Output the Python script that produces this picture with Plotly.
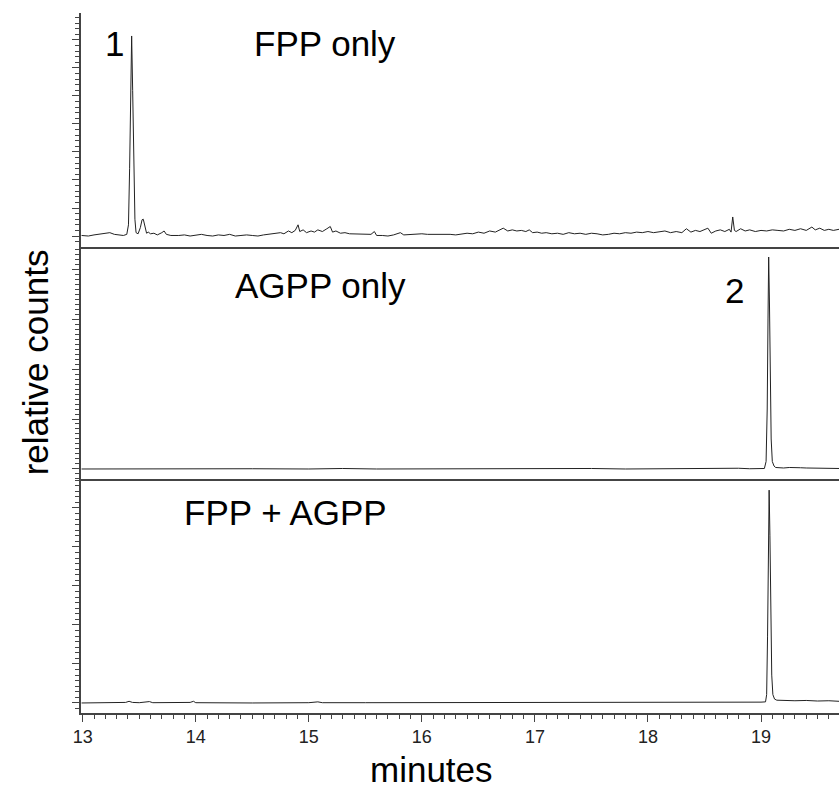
import plotly.graph_objects as go

# ---- data (retention time in minutes, relative counts per panel) ----
fpp_t = [12.99, 13.05, 13.10, 13.15, 13.20, 13.24, 13.28, 13.32, 13.36, 13.39,
         13.405, 13.415, 13.425, 13.433, 13.442, 13.452, 13.462, 13.472, 13.49, 13.51,
         13.525, 13.536, 13.55, 13.565, 13.58, 13.60, 13.63, 13.66, 13.70, 13.72,
         13.74, 13.78, 13.85, 13.90, 13.95, 14.00, 14.05, 14.10, 14.15, 14.20,
         14.25, 14.30, 14.35, 14.40, 14.45, 14.50, 14.55, 14.60, 14.65, 14.70,
         14.75, 14.78, 14.82, 14.85, 14.88, 14.905, 14.92, 14.95, 14.98, 15.02,
         15.05, 15.08, 15.12, 15.16, 15.19, 15.21, 15.24, 15.28, 15.32, 15.36,
         15.40, 15.45, 15.50, 15.55, 15.58, 15.60, 15.65, 15.70, 15.75, 15.81,
         15.84, 15.90, 15.95, 16.00, 16.05, 16.10, 16.15, 16.20, 16.25, 16.30,
         16.35, 16.40, 16.45, 16.50, 16.55, 16.60, 16.65, 16.70, 16.72, 16.76,
         16.80, 16.84, 16.88, 16.92, 16.95, 16.98, 17.02, 17.06, 17.10, 17.15,
         17.20, 17.25, 17.30, 17.35, 17.40, 17.45, 17.50, 17.55, 17.60, 17.65,
         17.70, 17.75, 17.80, 17.85, 17.90, 17.95, 18.00, 18.05, 18.10, 18.15,
         18.20, 18.25, 18.30, 18.34, 18.38, 18.42, 18.46, 18.50, 18.53, 18.56,
         18.60, 18.64, 18.68, 18.72, 18.735, 18.75, 18.765, 18.78, 18.82, 18.86,
         18.90, 18.95, 19.00, 19.05, 19.10, 19.15, 19.20, 19.25, 19.30, 19.35,
         19.40, 19.45, 19.48, 19.52, 19.56, 19.60, 19.64, 19.69]
fpp_v = [0.1, 0.0, 0.2, 0.3, 0.4, 0.6, 0.3, 0.2, 0.1, 0.3,
         2.0, 12.0, 28.0, 35.7, 26.0, 10.0, 3.0, 0.6, 0.4, 1.5,
         2.9, 3.0, 1.6, 0.5, 0.7, 0.4, 0.5, 0.2, 0.6, 0.9,
         0.3, 0.1, 0.1, 0.2, 0.0, 0.1, 0.3, 0.1, 0.0, 0.2,
         0.1, 0.3, 0.0, 0.1, 0.2, 0.1, 0.0, 0.2, 0.3, 0.4,
         0.6, 0.4, 0.9, 0.6, 1.0, 2.0, 0.8, 1.1, 0.6, 0.9,
         0.7, 1.1, 0.8, 1.3, 1.7, 0.7, 0.9, 0.5, 0.6, 0.4,
         0.4, 0.3, 0.3, 0.3, 0.8, 0.1, 0.1, 0.0, 0.2, 0.6,
         0.2, 0.3, 0.4, 0.4, 0.3, 0.3, 0.4, 0.3, 0.3, 0.2,
         0.4, 0.5, 0.4, 0.7, 0.5, 0.9, 0.7, 1.1, 1.4, 0.9,
         1.1, 0.9, 1.0, 0.8, 1.1, 0.6, 0.7, 0.5, 0.6, 0.4,
         0.5, 0.3, 0.6, 0.4, 0.5, 0.3, 0.5, 0.4, 0.2, 0.3,
         0.5, 0.4, 0.6, 0.5, 0.7, 0.6, 0.8, 0.6, 0.7, 0.9,
         0.6, 0.8, 0.6, 1.3, 0.7, 1.0, 0.8, 1.2, 1.4, 0.5,
         0.9, 1.1, 0.8, 1.2, 0.7, 3.4, 1.0, 0.8, 1.3, 0.9,
         1.1, 0.8, 1.0, 0.9, 1.1, 1.0, 0.9, 1.2, 1.0, 1.3,
         1.0, 1.6, 1.1, 1.4, 1.0, 1.2, 1.0, 1.2]

agpp_t = [12.99, 13.5, 14.0, 14.5, 15.0, 15.3, 15.6, 16.0, 16.5, 17.0,
          17.5, 17.8, 18.0, 18.3, 18.5, 18.6, 18.7, 18.8, 18.9, 19.0,
          19.03, 19.045, 19.055, 19.062, 19.068, 19.075, 19.082, 19.09, 19.10, 19.115,
          19.13, 19.16, 19.2, 19.25, 19.3, 19.35, 19.4, 19.5, 19.6, 19.69]
agpp_v = [0.0, 0.05, 0.0, 0.05, 0.0, 0.1, 0.0, 0.05, 0.0, 0.05,
          0.1, 0.0, 0.05, 0.1, 0.05, 0.15, 0.1, 0.15, 0.05, 0.1,
          0.1, 1.5, 12.0, 30.0, 42.4, 33.0, 18.0, 6.0, 1.5, 0.6,
          0.3, 0.25, 0.2, 0.3, 0.2, 0.25, 0.2, 0.15, 0.1, 0.1]

mix_t = [12.99, 13.3, 13.38, 13.41, 13.44, 13.5, 13.57, 13.59, 13.62, 13.8,
         13.95, 13.98, 14.0, 14.5, 15.0, 15.08, 15.12, 15.5, 16.0, 16.5,
         17.0, 17.5, 18.0, 18.5, 18.8, 19.0, 19.04, 19.05, 19.058, 19.065,
         19.072, 19.079, 19.086, 19.095, 19.105, 19.12, 19.14, 19.2, 19.3, 19.4,
         19.5, 19.6, 19.69]
mix_v = [0.0, 0.05, 0.1, 0.3, 0.1, 0.05, 0.1, 0.25, 0.05, 0.05,
         0.1, 0.3, 0.05, 0.0, 0.05, 0.2, 0.05, 0.05, 0.05, 0.1,
         0.05, 0.1, 0.1, 0.15, 0.1, 0.15, 0.2, 1.5, 12.0, 30.0,
         38.2, 30.0, 15.0, 5.0, 1.5, 0.7, 0.5, 0.45, 0.4, 0.45,
         0.35, 0.4, 0.3]

panel_labels = ["FPP only", "AGPP only", "FPP + AGPP"]
peak_labels = ["1", "2"]
x_ticks = [13, 14, 15, 16, 17, 18, 19]

XR = [12.985, 19.69]
LINE = "#222222"
AX = "#444444"
FONT = "Liberation Sans, Arial, sans-serif"

fig = go.Figure()
fig.add_trace(go.Scatter(x=fpp_t, y=fpp_v, xaxis="x", yaxis="y", mode="lines",
                         line=dict(color=LINE, width=1), showlegend=False))
fig.add_trace(go.Scatter(x=agpp_t, y=agpp_v, xaxis="x2", yaxis="y2", mode="lines",
                         line=dict(color=LINE, width=1), showlegend=False))
fig.add_trace(go.Scatter(x=mix_t, y=mix_v, xaxis="x3", yaxis="y3", mode="lines",
                         line=dict(color=LINE, width=1), showlegend=False))

def xax(anchor, bottom=False):
    d = dict(domain=[0, 1], anchor=anchor, range=XR, showline=True, linecolor=AX,
             linewidth=1.5, showgrid=False, zeroline=False)
    if bottom:
        d.update(ticks="outside", ticklen=7, tickcolor=AX, tickwidth=1,
                 tickvals=x_ticks, ticktext=[str(v) for v in x_ticks],
                 tickfont=dict(size=18, color="#222", family=FONT),
                 minor=dict(dtick=0.1, tick0=13, ticks="outside", ticklen=4,
                            tickcolor=AX, tickwidth=1))
    else:
        d.update(ticks="", showticklabels=False)
    return d

def yax(anchor, dom, rng, dt, mdt):
    return dict(domain=dom, anchor=anchor, range=rng, showline=True, linecolor=AX,
                linewidth=1.5, showgrid=False, zeroline=False, showticklabels=False,
                ticks="outside", ticklen=7, tickcolor=AX, tickwidth=1, tick0=0, dtick=dt,
                minor=dict(dtick=mdt, tick0=0, ticks="outside", ticklen=4,
                           tickcolor=AX, tickwidth=1))

fig.update_layout(
    width=839, height=795,
    margin=dict(l=81, r=0, t=13, b=82),
    paper_bgcolor="white", plot_bgcolor="white",
    font=dict(family=FONT, color="black"),
    xaxis=xax("y"), xaxis2=xax("y2"), xaxis3=xax("y3", bottom=True),
    yaxis=yax("x", [0.6657, 1.0], [-1.96, 39.8], 5, 1),
    yaxis2=yax("x2", [0.3343, 0.6657], [-2.0, 44.4], 10, 1),
    yaxis3=yax("x3", [0.0, 0.3343], [-1.8, 40.2], 7, 1),
)

big = dict(size=35, color="black", family=FONT)
anns = [
    dict(x=13.28, y=34.3, xref="x", yref="y", text=peak_labels[0]),
    dict(x=15.14, y=34.3, xref="x", yref="y", text=panel_labels[0]),
    dict(x=15.10, y=36.8, xref="x2", yref="y2", text=panel_labels[1]),
    dict(x=18.77, y=35.8, xref="x2", yref="y2", text=peak_labels[1]),
    dict(x=14.79, y=34.1, xref="x3", yref="y3", text=panel_labels[2]),
]
for a in anns:
    fig.add_annotation(showarrow=False, font=big, xanchor="center", yanchor="middle", **a)

fig.add_annotation(text="minutes", xref="paper", yref="paper", x=0.463, y=-0.0814,
                   showarrow=False, font=big, xanchor="center", yanchor="middle")
fig.add_annotation(text="relative counts", xref="paper", yref="paper", x=-0.0607, y=0.501,
                   showarrow=False, font=big, textangle=-90, xanchor="center", yanchor="middle")

fig.write_html("out.html")
